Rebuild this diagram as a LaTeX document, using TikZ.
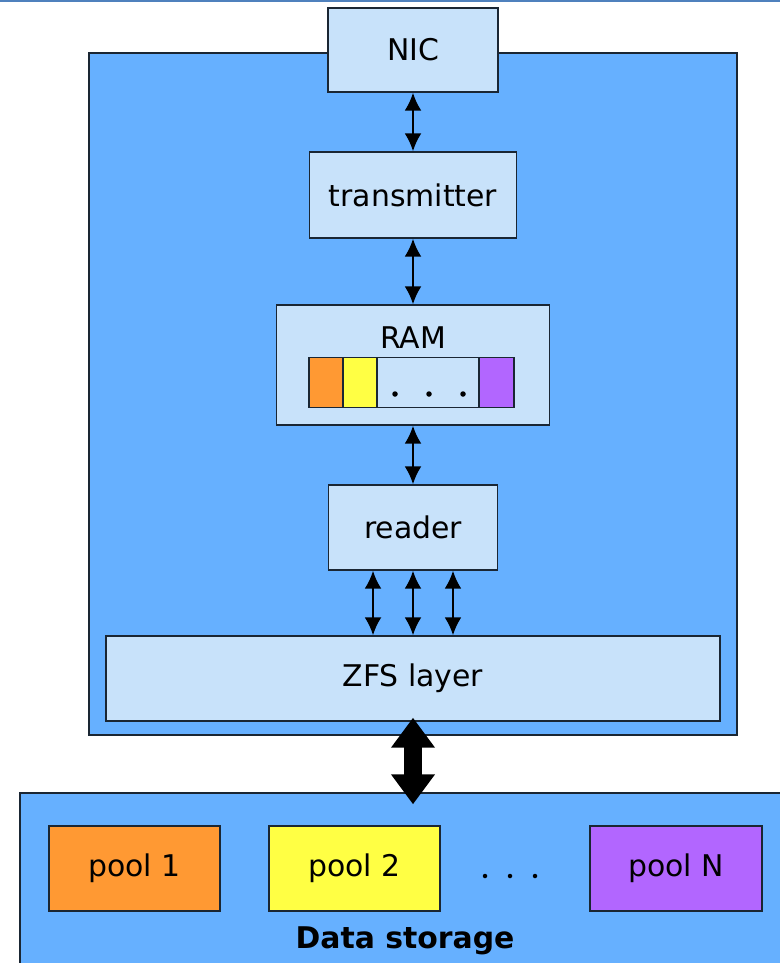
\documentclass[tikz,border=0pt]{standalone}
\usepackage{fontspec}
\setmainfont{DejaVu Sans}
\usetikzlibrary{arrows.meta}

\definecolor{hostblue}{HTML}{66B0FF}
\definecolor{boxfill}{HTML}{C8E2FA}
\definecolor{boxline}{HTML}{1A2633}
\definecolor{topline}{HTML}{4F81BD}
\definecolor{poolorange}{HTML}{FF9933}
\definecolor{poolyellow}{HTML}{FFFF44}
\definecolor{poolpurple}{HTML}{B266FF}

\begin{document}
\begin{tikzpicture}[
		x=0.02cm, y=-0.02cm,
		font=\fontsize{17}{20}\selectfont,
		box/.style={draw=boxline, line width=0.8pt, fill=boxfill, inner sep=0pt},
		area/.style={draw=boxline, line width=0.8pt, fill=hostblue},
		cell/.style={draw=boxline, line width=0.8pt, minimum width=#1, minimum height=1cm, inner sep=0pt},
		flow/.style={{Latex[length=0.36cm,width=0.34cm]}-{Latex[length=0.36cm,width=0.34cm]}, line width=1.3pt},
		bulk/.style={{Triangle[width=0.84cm,length=0.6cm]}-{Triangle[width=0.84cm,length=0.6cm]}, line width=0.36cm},
	]
	\useasboundingbox (0,0) rectangle (780,963);
	\fill[topline] (0,0) rectangle (780,2.5);

	% machine
	\node[area, minimum width=12.96cm, minimum height=13.64cm] (host) at (413,394) {};
	\node[box, minimum width=3.4cm, minimum height=1.68cm] (nic) at (413,50) {NIC};
	\node[box, minimum width=4.14cm, minimum height=1.72cm] (trans) at (413,195) {transmitter};
	\node[box, minimum width=5.46cm, minimum height=2.4cm] (ram) at (413,365) {};
	\node (ramtitle) at (413,338) {RAM};
	\node[cell=0.68cm, fill=poolorange] (slota) at (326,382.5) {};
	\node[cell=0.68cm, fill=poolyellow] (slotb) at (360,382.5) {};
	\node[cell=2.04cm, fill=boxfill] (slotc) at (428,382.5) {};
	\node[cell=0.7cm, fill=poolpurple] (slotd) at (496.5,382.5) {};
	\foreach \dx in {395,429,463}
		\fill (\dx,394) circle (0.055cm);
	\node[box, minimum width=3.38cm, minimum height=1.7cm] (reader) at (413,527.5) {reader};
	\node[box, minimum width=12.28cm, minimum height=1.7cm] (zfs) at (413,678.5) {ZFS layer};

	\draw[flow] (nic) -- (trans);
	\draw[flow] (trans) -- (ram);
	\draw[flow] (ram) -- (reader);
	\foreach \sx in {-0.8cm,0cm,0.8cm}
		\draw[flow] ([xshift=\sx]reader.south) -- ([xshift=\sx]reader.south |- zfs.north);

	% storage
	\node[area, minimum width=15.6cm, minimum height=4.14cm] (store) at (410,896.5) {};
	\node[box, fill=poolorange, minimum width=3.42cm, minimum height=1.7cm] (pool1) at (134.5,868.5) {pool 1};
	\node[box, fill=poolyellow, minimum width=3.42cm, minimum height=1.7cm] (pool2) at (354.5,868.5) {pool 2};
	\node[box, fill=poolpurple, minimum width=3.44cm, minimum height=1.7cm] (poolN) at (676,868.5) {pool N};
	\foreach \dx in {485,510,535}
		\fill (\dx,876) circle (0.045cm);
	\node[font=\fontsize{17}{20}\selectfont\bfseries] (storetitle) at (405,941) {Data storage};

	\draw[bulk] ([yshift=0.08cm]zfs.south) -- ([yshift=-0.24cm]zfs.south |- store.north);
\end{tikzpicture}
\end{document}
